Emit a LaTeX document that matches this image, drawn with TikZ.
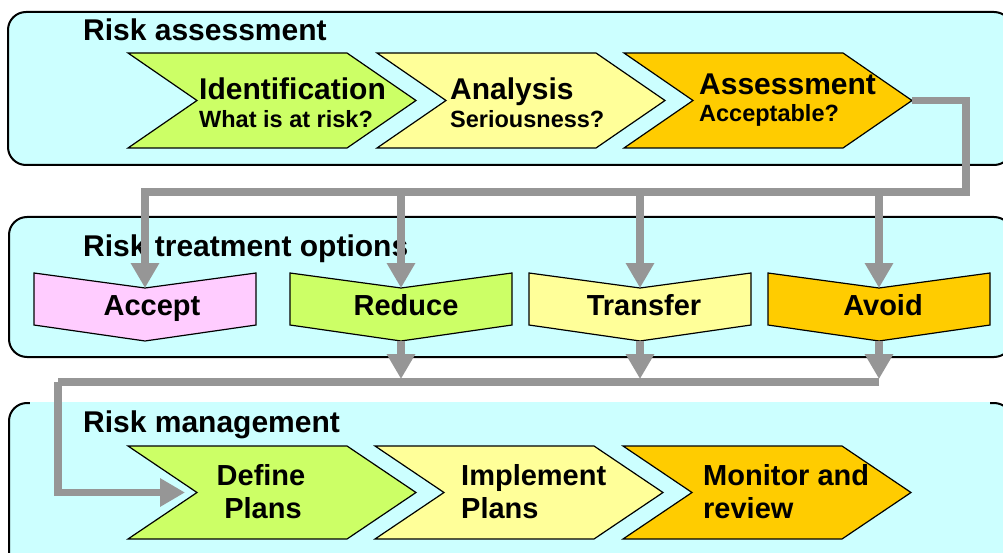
\documentclass[tikz,border=0pt]{standalone}
\usepackage{fontspec}
\setmainfont{Liberation Sans}
\usetikzlibrary{arrows.meta}

\definecolor{panelfill}{HTML}{CCFFFF}
\definecolor{cgreen}{HTML}{CCFF66}
\definecolor{cyellow}{HTML}{FFFF99}
\definecolor{corange}{HTML}{FFCC00}
\definecolor{cpink}{HTML}{FFCCFF}
\definecolor{conngrey}{HTML}{969696}

% process step: left x, top y, bottom y, fill colour
\newcommand\drawchevron[4]{%
  \path[shapeline, fill=#4] (#1,#2) -- ({#1+219},#2) -- ({#1+288},{(#2+#3)/2})
    -- ({#1+219},#3) -- (#1,#3) -- ({#1+69},{(#2+#3)/2}) -- cycle;}
% treatment option: left x, fill colour
\newcommand\drawoption[2]{%
  \path[shapeline, fill=#2] (#1,273) -- ({#1+111},288) -- ({#1+222},273)
    -- ({#1+222},325) -- ({#1+111},341) -- (#1,325) -- cycle;}

\begin{document}
\begin{tikzpicture}[x=1pt, y=-1pt,
  panel/.style={fill=panelfill, draw=black, line width=2pt, rounded corners=18pt},
  shapeline/.style={draw=black, line width=1.2pt, line join=miter},
  head/.style={font=\fontsize{30}{36}\selectfont\bfseries, inner sep=0pt, anchor=base west},
  ttl/.style={font=\fontsize{30}{36}\selectfont\bfseries, inner sep=0pt, anchor=base west},
  sub/.style={font=\fontsize{23.5}{28}\selectfont\bfseries, inner sep=0pt, anchor=base west},
  opt/.style={font=\fontsize{29}{34}\selectfont\bfseries, inner sep=0pt, anchor=base},
  plan/.style={font=\fontsize{29}{34}\selectfont\bfseries, inner sep=0pt},
  conn/.style={draw=conngrey, line width=7.5pt, line join=miter,
    -{Triangle[width=27pt,length=25pt]}},
  bus/.style={draw=conngrey, line width=7.5pt, line join=miter},
]
\clip (0,0) rectangle (1003,553);
\fill[white] (0,0) rectangle (1003,553);

% the three stage panels
\path[panel] (8,12) rectangle (1012,165);
\path[panel] (9,217) rectangle (1012,357);
\path[panel] (9,403) rectangle (1012,572);
\draw[panelfill, line width=3pt] (30,403) -- (990,403);

% risk assessment steps
\drawchevron{128}{53}{148}{cgreen}
\drawchevron{377}{53}{148}{cyellow}
\drawchevron{624}{53}{148}{corange}
\coordinate (assess-tip) at (912,100.5);

% treatment options
\drawoption{34}{cpink}
\drawoption{290}{cgreen}
\drawoption{529}{cyellow}
\drawoption{768}{corange}
\coordinate (accept-top) at (145,288);
\coordinate (reduce-top) at (401,288);
\coordinate (transfer-top) at (640,288);
\coordinate (avoid-top) at (879,288);
\coordinate (reduce-bot) at (401,341);
\coordinate (transfer-bot) at (640,341);
\coordinate (avoid-bot) at (879,341);

% risk management steps
\drawchevron{128}{446}{539}{cgreen}
\drawchevron{375}{446}{539}{cyellow}
\drawchevron{623}{446}{539}{corange}
\coordinate (define-notch) at (197,492.5);

% headings
\node[head] (h-assess) at (83,41) {Risk assessment};
\node[head] (h-treat) at (83,257) {Risk treatment options};
\node[head] (h-manage) at (83,432) {Risk management};

% step texts
\node[ttl] (identification) at (199,100) {Identification};
\node[sub] (identification-q) at (199,128) {What is at risk?};
\node[ttl] (analysis) at (450,100) {Analysis};
\node[sub] (analysis-q) at (450,128) {Seriousness?};
\node[ttl] (assessment) at (699,95) {Assessment};
\node[sub] (assessment-q) at (699,122) {Acceptable?};

\node[opt] (accept) at (152,315) {Accept};
\node[opt] (reduce) at (406,315) {Reduce};
\node[opt] (transfer) at (644,315) {Transfer};
\node[opt] (avoid) at (883,315) {Avoid};

\node[plan, anchor=base] (define-a) at (261,485) {Define};
\node[plan, anchor=base] (define-b) at (263,518) {Plans};
\node[plan, anchor=base west] (implement-a) at (461,485) {Implement};
\node[plan, anchor=base west] (implement-b) at (461,518) {Plans};
\node[plan, anchor=base west] (monitor-a) at (703,485) {Monitor and};
\node[plan, anchor=base west] (monitor-b) at (703,518) {review};

% connectors
\coordinate (bus1-right) at (966,192);
\coordinate (bus2-left) at (58,382);
\draw[conn] (assess-tip) -| (bus1-right) -| (accept-top);
\draw[conn] (reduce-top |- bus1-right) -- (reduce-top);
\draw[conn] (transfer-top |- bus1-right) -- (transfer-top);
\draw[conn] (avoid-top |- bus1-right) -- (avoid-top);

\draw[bus] (avoid-bot |- bus2-left) -- (bus2-left);
\draw[conn, shorten >=3pt] (reduce-bot) -- (reduce-bot |- bus2-left);
\draw[conn, shorten >=3pt] (transfer-bot) -- (transfer-bot |- bus2-left);
\draw[conn, shorten >=3pt] (avoid-bot) -- (avoid-bot |- bus2-left);
\draw[conn, shorten >=12pt] (bus2-left) |- (define-notch);
\end{tikzpicture}
\end{document}
